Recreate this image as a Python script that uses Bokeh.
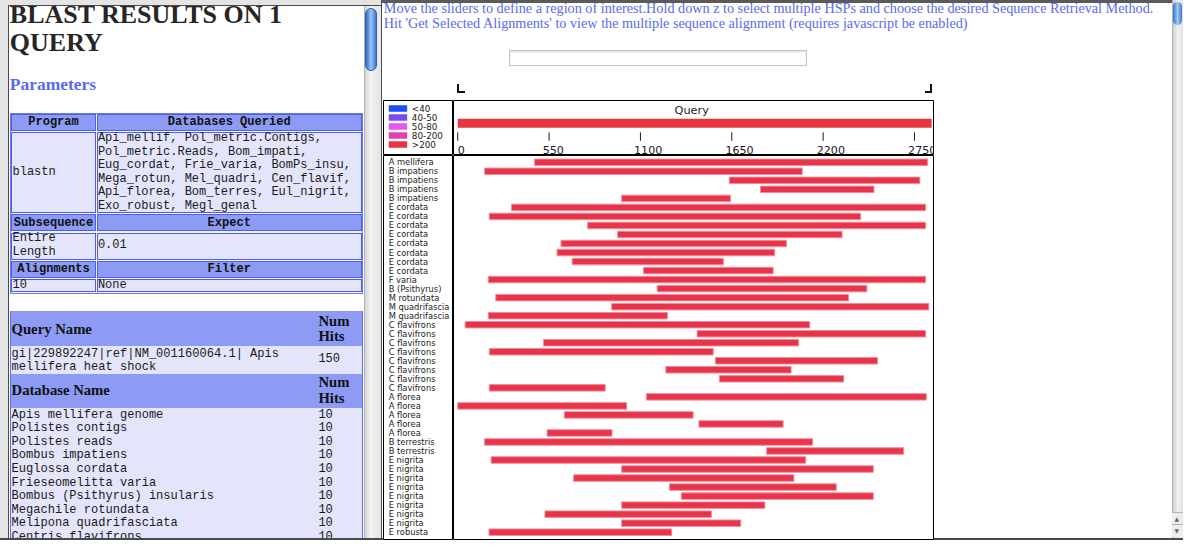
import html
import textwrap
from bokeh.plotting import figure
from bokeh.layouts import row, column
from bokeh.models import Div, Range1d, ColumnDataSource
from bokeh.core.properties import value
from bokeh.embed import file_html
from bokeh.resources import INLINE

# ---------------- data ----------------
query_length = 2853
tick_values = [0, 550, 1100, 1650, 2200, 2750]
tick_labels = ["0", "550", "1100", "1650", "2200", "2750"]

score_bins = ["<40", "40-50", "50-80", "80-200", ">200"]
score_colors = ["#1e4ff3", "#784cf1", "#e457f1", "#e042ab", "#e63440"]
hit_color = "#e7344a"

hit_names = [
    "A mellifera",
    "B impatiens", "B impatiens", "B impatiens", "B impatiens",
    "E cordata", "E cordata", "E cordata", "E cordata",
    "E cordata", "E cordata", "E cordata", "E cordata",
    "F varia", "B (Psithyrus)", "M rotundata", "M quadrifascia", "M quadrifascia",
    "C flavifrons", "C flavifrons", "C flavifrons", "C flavifrons",
    "C flavifrons", "C flavifrons", "C flavifrons", "C flavifrons",
    "A florea", "A florea", "A florea", "A florea", "A florea",
    "B terrestris", "B terrestris",
    "E nigrita", "E nigrita", "E nigrita", "E nigrita",
    "E nigrita", "E nigrita", "E nigrita", "E nigrita",
    "E robusta",
]
hit_starts = [463, 162, 1635, 1823, 987, 324, 190, 782, 963, 622, 598, 689, 1119,
              184, 1201, 229, 927, 184, 45, 1441, 516, 190, 1551, 1253, 1575, 190,
              1136, 0, 642, 1452, 538, 162, 1860, 201, 987, 698, 1275, 1346, 987,
              525, 987, 188]
hit_ends = [2829, 2074, 2782, 2506, 1642, 2817, 2426, 2817, 2314, 1979, 1908, 1599,
            1899, 2817, 2463, 2353, 2836, 1262, 2119, 2817, 2052, 1538, 2528, 2007,
            2324, 888, 2821, 1017, 1417, 1959, 929, 2137, 2685, 2095, 2502, 2024,
            2279, 2502, 1849, 1527, 1704, 1288]

param_headers = [("Program", "Databases Queried"), ("Subsequence", "Expect"), ("Alignments", "Filter")]
databases = ["Api_mellif", "Pol_metric.Contigs", "Pol_metric.Reads", "Bom_impati", "Eug_cordat",
             "Frie_varia", "BomPs_insu", "Mega_rotun", "Mel_quadri", "Cen_flavif", "Api_florea",
             "Bom_terres", "Eul_nigrit", "Exo_robust", "Megl_genal"]
param_values = [("blastn", ", ".join(databases)), ("Entire Length", "0.01"), ("10", "None")]

query_name = "gi|229892247|ref|NM_001160064.1| Apis mellifera heat shock"
query_hits = 150
db_names = ["Apis mellifera genome", "Polistes contigs", "Polistes reads", "Bombus impatiens",
            "Euglossa cordata", "Frieseomelitta varia", "Bombus (Psithyrus) insularis",
            "Megachile rotundata", "Melipona quadrifasciata", "Centris flavifrons"]
db_hits = [10, 10, 10, 10, 10, 10, 10, 10, 10, 10]

intro_lines = [
    "Move the sliders to define a region of interest.Hold down z to select multiple HSPs and choose the desired Sequence Retrieval Method.",
    "Hit 'Get Selected Alignments' to view the multiple sequence alignment (requires javascript be enabled)",
]

# ---------------- page geometry helpers ----------------
# the 1199x556 reference is drawn scaled into the 1183x540 area that the page allows
SX = 1183 / 1199
SY = 540 / 556
FS = 0.98

SERIF = "'Liberation Serif', serif"
MONO = "'Liberation Mono', monospace"
SANSF = "'DejaVu Sans', sans-serif"
METRICS = {SERIF: (0.891, 0.216), MONO: (0.833, 0.300), SANSF: (0.928, 0.236)}
BLUE_TXT = "#5a6af2"
HEAD_BG = "#8d9bf5"
BODY_BG = "#e4e5fb"
CELL_BORDER = "#4c60e7"
FRAME = "#4a4a4a"


def rect_html(org, x, y, w, h, style):
    ww = w * SX if w > 3 else w
    hh = h * SY if h > 3 else h
    return (f'<div style="position:absolute;left:{x * SX - org[0]:.2f}px;top:{y * SY - org[1]:.2f}px;'
            f'width:{ww:.2f}px;height:{hh:.2f}px;box-sizing:border-box;{style}"></div>')


def text_html(org, x, baseline, s, size, fam, color="#1a1a1a", weight="normal", width=None, align="left"):
    asc, desc = METRICS[fam]
    sz = size * FS
    lh = (asc + desc) * sz
    top = baseline * SY - asc * sz
    wcss = f"width:{width * SX:.2f}px;text-align:{align};" if width else ""
    return (f'<div style="position:absolute;left:{x * SX - org[0]:.2f}px;top:{top - org[1]:.2f}px;{wcss}'
            f'white-space:pre;font-family:{fam};font-size:{sz:.2f}px;line-height:{lh:.2f}px;'
            f'font-weight:{weight};color:{color};margin:0;padding:0">{html.escape(s)}</div>')


def panel(parts, w, h):
    return (f'<div style="position:relative;width:{w}px;height:{h}px;overflow:hidden;background:#ffffff">'
            + "".join(parts) + "</div>")


# local layout (px): left pane 381, right pane 791 (gap 2 + chart 551 + blank 238), scrollbar 11
LW, GAPW, LABW, FRW, BLW, SCW = 381, 2, 70, 481, 238, 11
TOPH, HEADH, HITSH = 100, 55, 385

# ---------------- left pane ----------------
L = (0, 0)
lp = []
lp.append(rect_html(L, 0, 0, 386, 5, "background:#e4e4e4"))
lp.append(rect_html(L, 0, 0, 8, 556, "background:#e4e4e4"))
lp.append(rect_html(L, 8, 5, 1.5, 551, f"background:{FRAME}"))
lp.append(rect_html(L, 8, 5, 378, 1.5, f"background:{FRAME}"))
lp.append(text_html(L, 10, 24.5, "BLAST RESULTS ON 1", 26.5, SERIF, "#262626", "bold"))
lp.append(text_html(L, 10, 53.5, "QUERY", 26.5, SERIF, "#262626", "bold"))
lp.append(text_html(L, 10, 93, "Parameters", 17.8, SERIF, BLUE_TXT, "bold"))

MSZ = 12.3
LINE = 13.9
lp.append(rect_html(L, 10, 116, 358.3, 186.7, "border:1px solid #6b7bf0;background:#f2f3fe"))
cols = [(11.3, 85.9), (97.9, 269.0)]
wraps = [11, 36]
y = 117.3
for hdr, val in zip(param_headers, param_values):
    for (cx, cw), t in zip(cols, hdr):
        lp.append(rect_html(L, cx, y, cw, 17.4, f"background:{HEAD_BG};border:1px solid {CELL_BORDER}"))
        lp.append(text_html(L, cx, y + 8.7 + 3.9, t, MSZ, MONO, "#111", "bold", width=cw, align="center"))
    y += 17.4 + 1.3
    lines = [textwrap.wrap(v, w) for v, w in zip(val, wraps)]
    n = max(len(l) for l in lines)
    h = n * LINE
    for (cx, cw), ls in zip(cols, lines):
        lp.append(rect_html(L, cx, y, cw, h, f"background:{BODY_BG};border:1px solid {CELL_BORDER}"))
        btop = y + (h - len(ls) * LINE) / 2
        for j, s in enumerate(ls):
            lp.append(text_html(L, cx + 1.3, btop + j * LINE + 10.25, s, MSZ, MONO, "#1a1a1a"))
    y += h + 1.3

# query / database table
lp.append(rect_html(L, 10, 320, 358.3, 240, f"border:1px solid #5d6df0;background:{BODY_BG}"))
lp.append(rect_html(L, 11, 320.7, 356.3, 35.3, f"background:{HEAD_BG}"))
lp.append(text_html(L, 11.7, 344.3, "Query Name", 15, SERIF, "#111", "bold"))
lp.append(text_html(L, 322.7, 335.7, "Num", 15, SERIF, "#111", "bold"))
lp.append(text_html(L, 322.7, 351.7, "Hits", 15, SERIF, "#111", "bold"))
for j, s in enumerate(textwrap.wrap(query_name, 41)):
    lp.append(text_html(L, 11.7, 368.9 + j * 13.3, s, MSZ, MONO))
lp.append(text_html(L, 322.7, 373.9, str(query_hits), MSZ, MONO))
lp.append(rect_html(L, 11, 384.7, 356.3, 35.3, f"background:{HEAD_BG}"))
lp.append(text_html(L, 11.7, 406.6, "Database Name", 15, SERIF, "#111", "bold"))
lp.append(text_html(L, 322.7, 398.8, "Num", 15, SERIF, "#111", "bold"))
lp.append(text_html(L, 322.7, 414.8, "Hits", 15, SERIF, "#111", "bold"))
for i, (nm, hv) in enumerate(zip(db_names, db_hits)):
    b = 427.3 + 13.96 * i + 3.9
    lp.append(text_html(L, 11.7, b, nm, MSZ, MONO))
    lp.append(text_html(L, 322.7, b, str(hv), MSZ, MONO))

# left pane scrollbar
lp.append(rect_html(L, 368.5, 6.5, 15, 550,
                    "background:linear-gradient(to right,#d6d6d6,#f5f5f5 45%,#e6e6e6);border-left:1px solid #b0b0b0"))
lp.append(rect_html(L, 369.8, 8, 12, 65.3,
                    "border-radius:6px;background:linear-gradient(to right,#2f6ccc,#9cc6f4 50%,#3a78d4);border:1px solid #2a5fb5"))
lp.append(rect_html(L, 383.5, 6.5, 2.6, 550, "background:#e6e6e6"))
lp.append(rect_html(L, 0, 553.5, 386, 2.5, f"background:{FRAME}"))
left_div = Div(text=panel(lp, LW, 540), width=LW, height=540, margin=0)

# ---------------- right pane top (instructions, input, slider brackets) ----------------
R = (LW, 0)
rp = []
rp.append(text_html(R, 389, 13.6, intro_lines[0], 14.5, SERIF, BLUE_TXT))
rp.append(text_html(R, 389, 30.0, intro_lines[1], 14.5, SERIF, BLUE_TXT))
rp.append(rect_html(R, 386, 0, 802, 2.5, "background:#5a5a5a"))
rp.append(rect_html(R, 386, 0, 1.5, 103, f"background:{FRAME}"))
rp.append(rect_html(R, 516, 51.7, 302, 16.6,
                    "border:1px solid #c4c4c4;box-shadow:inset 0 1px 2px #e0e0e0;background:#fff"))
rp.append(rect_html(R, 463, 86, 2, 9.5, "background:#111"))
rp.append(rect_html(R, 463, 93.5, 8, 2, "background:#111"))
rp.append(rect_html(R, 943, 86, 2, 9.5, "background:#111"))
rp.append(rect_html(R, 937, 93.5, 8, 2, "background:#111"))
top_div = Div(text=panel(rp, GAPW + LABW + FRW + BLW, TOPH), width=GAPW + LABW + FRW + BLW,
              height=TOPH, margin=0)

G = (LW, TOPH)
gap_div = Div(text=panel([rect_html(G, 386, 103, 1.5, 453, f"background:{FRAME}"),
                          rect_html(G, 386, 553.5, 2, 2.5, f"background:{FRAME}")], GAPW, 540 - TOPH),
              width=GAPW, height=540 - TOPH, margin=0)
B = (LW + GAPW + LABW + FRW, TOPH)
blank_div = Div(text=panel([rect_html(B, 946, 553.5, 243, 2.5, f"background:{FRAME}")], BLW, 540 - TOPH),
                width=BLW, height=540 - TOPH, margin=0)
S = (1183 - SCW, 0)
strip_div = Div(text=panel([
    rect_html(S, 1188, 0, 11, 556,
              "background:linear-gradient(to right,#cfcfcf,#f2f2f2 50%,#e2e2e2);border-left:1px solid #b5b5b5"),
    rect_html(S, 1189, 2, 9, 24, "border-radius:5px;background:linear-gradient(to right,#3370cf,#a0c8f4 50%,#3a78d4)"),
    rect_html(S, 1188, 527, 11, 13, "border-top:1px solid #b5b5b5;background:#ededed"),
    rect_html(S, 1188, 540, 11, 13, "border-top:1px solid #b5b5b5;background:#ededed"),
    text_html(S, 1190.5, 536.5, "\u25b2", 6, SANSF, "#666"),
    text_html(S, 1190.5, 549.5, "\u25bc", 6, SANSF, "#666"),
    rect_html(S, 1188, 553.5, 11, 2.5, f"background:{FRAME}"),
], SCW, 540), width=SCW, height=540, margin=0)

# ---------------- chart ----------------
SANS = value("DejaVu Sans")


def base_fig(w, h, xr, yr):
    p = figure(width=w, height=h, x_range=xr, y_range=yr, x_axis_type=None, y_axis_type=None,
               toolbar_location=None, output_backend="svg", min_border=0)
    p.min_border_left = p.min_border_right = p.min_border_top = p.min_border_bottom = 0
    p.title.visible = False
    p.outline_line_color = "#000000"
    p.outline_line_width = 1
    p.background_fill_color = "#ffffff"
    p.border_fill_color = "#ffffff"
    return p


XR = Range1d(-25.5, 2870.4)
YR = Range1d(41.92, -0.754)

# legend (score bins)
leg = base_fig(LABW, HEADH, Range1d(0, 71), Range1d(5.21, -0.89))
lsrc = ColumnDataSource(dict(i=list(range(len(score_bins))), label=score_bins, color=score_colors))
leg.rect(x=14.65, y="i", width=18.7, height=6.5, height_units="screen",
         fill_color="color", line_color=None, source=lsrc)
leg.text(x=28.7, y="i", text="label", text_font=SANS, text_font_size="8.8px",
         text_baseline="middle", text_color="#222222", source=lsrc)

# query header with scale
head = base_fig(FRW, HEADH, XR, Range1d(57, 0))
head.text(x=[query_length / 2], y=[10.8], text=["Query"], x_offset=-3, text_font=SANS,
          text_font_size="11.3px", text_align="center", text_baseline="middle", text_color="#1a1a1a")
head.quad(left=[0], right=[query_length], top=[19], bottom=[28.3],
          fill_color=score_colors[-1], line_color=None)
tsrc = ColumnDataSource(dict(x=tick_values, label=tick_labels,
                             off=[0.0 if t == 0 else -6.4 for t in tick_values]))
head.segment(x0="x", y0=33, x1="x", y1=41.7, line_color="#1a1a1a", line_width=1, source=tsrc)
head.text(x="x", y=51.4, text="label", x_offset="off", text_font=SANS, text_font_size="11.1px",
          text_align="left", text_baseline="middle", text_color="#1a1a1a", source=tsrc)

# hit rows
hsrc = ColumnDataSource(dict(i=list(range(len(hit_names))), name=hit_names,
                             start=hit_starts, end=hit_ends))
lab = base_fig(LABW, HITSH, Range1d(0, 71), YR)
lab.text(x=0, y="i", text="name", x_offset=5.2, text_font=SANS, text_font_size="8.3px",
         text_baseline="middle", text_color="#1c1c1c", source=hsrc)

hits = base_fig(FRW, HITSH, XR, YR)
hits.hbar(y="i", left="start", right="end", height=0.72, fill_color=hit_color,
          line_color="#f08c98", line_width=1, source=hsrc)

chart = column(row(leg, head), row(lab, hits))
right_block = column(top_div, row(gap_div, chart, blank_div))
page = row(left_div, right_block, strip_div)

open("out.html", "w").write(file_html(page, INLINE))
